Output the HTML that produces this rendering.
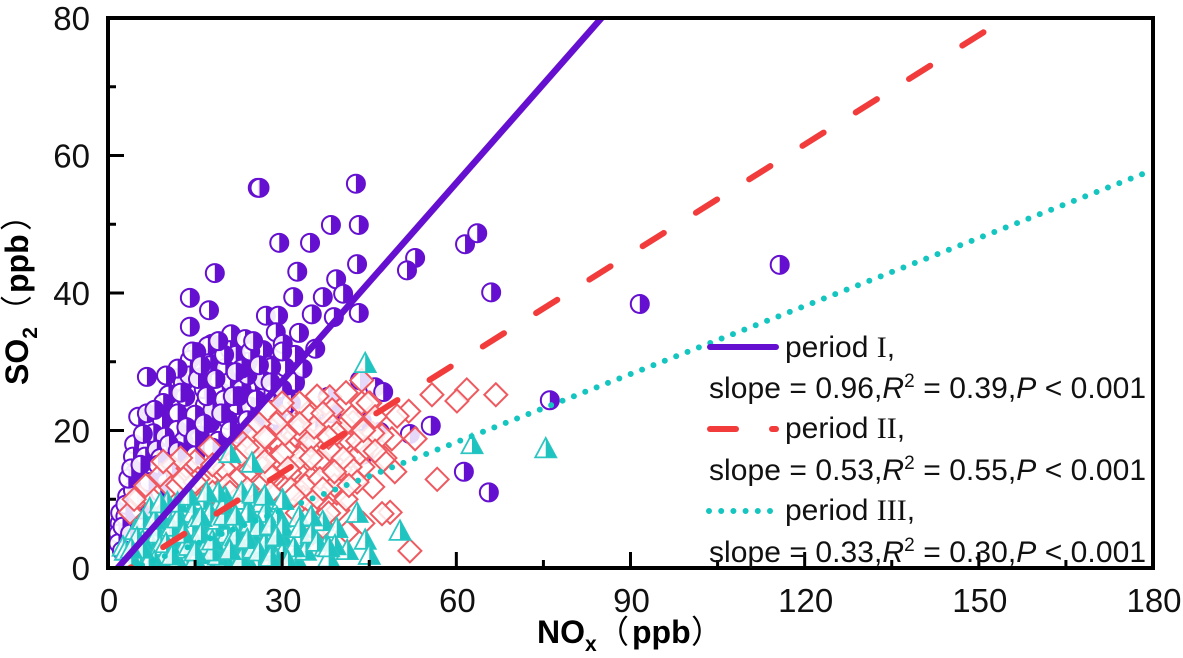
<!DOCTYPE html>
<html lang="en">
<head>
<meta charset="utf-8">
<title>SO2 versus NOx scatter chart</title>
<style>
html,body{margin:0;padding:0;background:#fff;}
svg{display:block;font-family:"Liberation Sans",Arial,sans-serif;}
</style>
</head>
<body>
<svg id="chart" xmlns="http://www.w3.org/2000/svg" width="1183" height="658" viewBox="0 0 1183 658">
  <defs><clipPath id="plot-clip"><rect x="108" y="18" width="1045" height="550"/></clipPath></defs>
  <g id="points" clip-path="url(#plot-clip)"></g>
  <g id="fits" clip-path="url(#plot-clip)"></g>
  <rect x="108" y="18" width="1045" height="550" fill="none" stroke="#000" stroke-width="4"/>
  <g id="ticks"></g>

  <text x="537" y="643" font-size="32" font-weight="bold">NO<tspan font-size="21" dy="8">x</tspan><tspan x="597" dy="-8" font-weight="normal" font-family="'Noto Sans CJK SC',sans-serif">（</tspan><tspan x="632">ppb</tspan><tspan x="691" font-weight="normal" font-family="'Noto Sans CJK SC',sans-serif">）</tspan></text>
  <text transform="translate(28,385) rotate(-90)" font-size="32" font-weight="bold">SO<tspan font-size="21" dy="9">2</tspan><tspan x="58" dy="-9" font-weight="normal" font-family="'Noto Sans CJK SC',sans-serif">（</tspan><tspan x="92">ppb</tspan><tspan x="154" font-weight="normal" font-family="'Noto Sans CJK SC',sans-serif">）</tspan></text>

  <g font-size="30" fill="#111">
    <line x1="710" y1="347" x2="776" y2="347" stroke="#6510d0" stroke-width="6" stroke-linecap="round"/>
    <text x="785" y="357">period <tspan font-family="'Liberation Serif',serif">I</tspan>,</text>
    <text x="709" y="398" textLength="437">slope = 0.96,<tspan font-style="italic">R</tspan><tspan font-size="19" dy="-11">2</tspan><tspan dy="11"> = 0.39,</tspan><tspan font-style="italic">P</tspan> &lt; 0.001</text>
    <line x1="710" y1="429" x2="736" y2="429" stroke="#f23c3c" stroke-width="6" stroke-linecap="round"/>
    <line x1="772" y1="429" x2="776" y2="429" stroke="#f23c3c" stroke-width="6" stroke-linecap="round"/>
    <text x="785" y="438">period <tspan font-family="'Liberation Serif',serif">II</tspan>,</text>
    <text x="709" y="480" textLength="437">slope = 0.53,<tspan font-style="italic">R</tspan><tspan font-size="19" dy="-11">2</tspan><tspan dy="11"> = 0.55,</tspan><tspan font-style="italic">P</tspan> &lt; 0.001</text>
    <line x1="709" y1="511" x2="775" y2="511" stroke="#15c5c0" stroke-width="6" stroke-linecap="round" stroke-dasharray="0 12.2"/>
    <text x="785" y="520">period <tspan font-family="'Liberation Serif',serif">III</tspan>,</text>
    <text x="709" y="562" textLength="437">slope = 0.33,<tspan font-style="italic">R</tspan><tspan font-size="19" dy="-11">2</tspan><tspan dy="11"> = 0.30,</tspan><tspan font-style="italic">P</tspan> &lt; 0.001</text>
  </g>
</svg>
<script>
const xTickLabels = [0, 30, 60, 90, 120, 150, 180];
const yTickLabels = [0, 20, 40, 60, 80];
const xMinorTicks = [15, 45, 75, 105, 135, 165];
const yMinorTicks = [10, 30, 50, 70];

const period1NOx = [
25.8,26.1,42.7,38.4,43.2,29.5,34.8,18.4,32.6,42.9,
52.9,51.5,39.3,14.1,17.4,14.1,31.9,37.0,40.5,27.2,
29.3,35.1,38.9,43.2,28.9,32.9,30.1,35.7,32.2,21.2,
23.6,17.9,17.2,15.2,14.1,26.7,17.4,21.0,24.1,27.9,
30.5,61.5,63.6,66.0,91.6,115.7,55.6,52.0,61.3,65.6,
76.1,28.1,32.2,31.2,43.4,46.0,47.4,37.9,43.7,31.7,
35.7,46.8,28.4,6.7,5.2,6.7,4.5,6.7,4.3,4.6,
8.1,6.4,3.3,4.3,2.0,1.8,1.8,2.1,9.3,11.9,
10.4,12.9,16.2,17.6,25.3,26.7,32.2,25.3,22.2,19.6,
20.2,21.0,16.7,17.6,20.7,15.8,12.0,11.9,7.8,9.8,
15.0,13.3,15.0,11.9,8.4,23.0,24.5,27.0,19.0,13.0,
18.0,22.5,25.5,9.5,11.0,13.5,6.0,3.0,5.5,3.5,
22.0,16.5,10.0,28.5,24.0,20.0,29.0,38.5,44.0,34.0,
9.0,10.5,12.0,13.5,15.0,16.5,18.0,19.5,21.0,22.5,
24.0,25.5,27.0,28.5,30.0,31.5,33.0,10.0,12.5,14.0,
15.5,17.0,18.5,20.0,21.5,23.0,24.5,26.0,12.0,14.5,
16.0,19.0,22.0,25.0,28.0,30.0,33.5,8.0,10.0,6.0,
3.0,2.5,4.0,5.0,7.0,3.8,2.4,8.6,9.0,5.6];
const period1SO2 = [
55.3,55.3,55.9,49.9,49.9,47.3,47.3,42.9,43.1,44.2,
45.1,43.3,42.0,39.3,37.5,35.1,39.4,39.4,39.9,36.7,
36.7,36.9,36.5,37.1,34.3,34.2,32.6,31.9,31.0,34.0,
33.3,32.6,32.3,31.4,30.3,31.7,29.8,31.7,30.0,29.5,
29.2,47.1,48.7,40.1,38.4,44.1,20.7,19.5,14.0,11.0,
24.4,29.2,26.9,24.3,27.3,26.3,25.6,24.9,21.4,21.2,
20.8,19.8,20.1,27.8,22.0,22.5,18.0,17.5,16.2,13.8,
13.8,16.2,10.4,11.3,6.5,5.0,3.6,8.0,21.5,27.6,
25.2,26.9,27.8,29.5,27.1,27.3,27.1,21.1,23.7,25.5,
29.1,27.1,23.7,21.1,21.5,19.3,22.5,20.1,19.6,19.1,
22.3,24.9,16.4,16.7,17.2,26.0,23.5,24.0,18.5,18.5,
23.0,19.5,19.0,24.0,14.5,14.0,11.0,7.5,8.5,13.0,
31.0,26.0,16.5,25.5,28.0,24.5,22.0,22.5,16.5,18.0,
16.0,18.0,17.0,20.5,19.0,21.0,17.5,22.5,20.0,25.0,
21.5,24.5,19.5,23.0,26.0,24.0,22.0,12.5,25.5,28.0,
27.5,25.0,27.5,31.0,25.0,29.0,31.5,29.5,29.0,31.5,
29.5,33.0,28.5,33.0,27.0,31.5,29.0,23.0,28.0,19.5,
9.2,6.0,14.5,10.0,12.5,5.0,2.5,15.0,11.0,15.0];

const period2NOx = [
55.8,61.8,60.1,66.8,56.7,52.0,48.6,47.2,45.6,49.4,
52.9,48.9,51.8,49.8,47.7,43.7,45.5,43.7,45.1,42.2,
43.9,41.2,42.2,43.9,41.2,43.7,40.8,35.0,38.2,38.6,
40.8,44.8,28.8,32.2,35.3,39.1,47.2,43.4,27.4,26.2,
29.3,32.7,37.0,40.0,11.0,5.5,3.8,13.8,17.6,19.3,
23.3,27.6,29.1,26.5,32.7,34.3,38.2,36.5,33.6,36.5,
35.3,39.6,39.4,7.8,10.7,14.1,17.0,22.2,24.5,31.3,
33.6,29.1,27.4,30.8,38.2,41.7,42.9,36.5,34.8,25.7,
21.0,32.6,34.3,38.2,39.4,45.6,47.4,37.0,36.0,12.0,
30.0,31.0,35.0,33.0,41.0,25.0,22.0,15.0,20.0,46.0,
6.5,9.0,12.5,15.5,18.0,20.5,23.0,25.5,28.0,30.5,
33.0,35.5,38.0,40.5,43.0,29.0,31.5,34.0,36.5,39.0,
41.5,44.5,27.0,24.0,21.0,18.0,15.0,13.0,9.5,4.5,
33.0,37.0,30.0,26.0,35.0,39.0,42.0,28.0,32.0,24.0,
30.0,36.0,41.0,44.0,46.0,38.0,34.0,37.0,31.0,27.0];
const period2SO2 = [
25.2,25.9,24.3,25.2,12.9,2.5,8.1,7.9,11.8,14.0,
18.8,18.8,22.8,22.1,16.0,16.6,19.1,27.3,24.0,21.2,
14.7,14.3,13.2,6.5,5.2,24.0,18.6,22.5,24.9,23.0,
20.8,24.0,18.2,19.3,17.9,17.2,19.3,16.7,23.0,18.6,
15.4,14.0,15.7,14.3,14.8,10.3,8.1,14.5,17.5,13.2,
18.2,22.7,18.3,12.1,20.1,22.5,21.1,15.7,10.3,7.0,
5.1,8.4,10.9,9.9,11.8,11.3,12.8,12.8,14.3,13.8,
16.7,16.1,19.1,11.8,13.8,14.7,12.5,19.1,18.6,15.3,
15.3,8.0,9.9,17.2,19.6,19.6,15.7,6.0,10.3,12.0,
22.0,17.0,13.0,24.0,10.0,20.0,16.0,15.5,14.5,22.0,
12.0,13.5,16.0,13.0,15.0,12.0,16.5,17.0,13.5,19.5,
16.0,20.5,19.0,16.0,18.5,21.0,11.5,12.0,13.0,12.0,
12.0,17.5,15.5,11.5,11.0,11.0,12.5,13.0,15.5,10.0,
21.0,22.5,16.5,21.0,16.0,14.0,22.0,11.0,10.5,17.5,
24.0,25.0,25.5,20.0,17.0,8.0,7.0,11.5,14.5,19.0];

const period3NOx = [
44.3,62.7,75.4,42.9,50.3,44.3,45.0,41.2,37.0,39.4,
39.1,37.4,32.9,33.1,32.2,30.1,29.6,26.5,30.0,30.1,
26.2,25.8,27.9,25.0,27.9,21.0,24.8,7.2,10.2,13.6,
16.4,20.2,23.3,18.9,2.6,4.7,6.7,9.0,11.9,14.6,
17.6,21.5,30.0,29.1,3.5,5.5,7.5,9.5,11.5,13.5,
15.5,17.5,19.5,21.5,23.5,25.0,8.5,10.5,12.5,14.5,
16.5,18.5,20.5,22.5,24.5,6.0,12.0,16.0,20.0,24.0,
28.0,22.0,19.0,15.0,11.0,9.0,35.0,34.0,38.0,27.0,
3.0,5.0,7.0,9.0,11.0,13.0,15.0,17.0,19.0,21.0,
23.0,25.0,27.0,29.0,4.0,6.0,8.0,10.0,12.0,14.0,
16.0,18.0,20.0,22.0,24.0,26.0,28.0,8.0,10.0,12.0,
14.0,16.0,18.0,20.0,22.0,24.0,26.0,28.0,30.0,32.0,
15.0,19.0,23.0,13.0,11.0,17.0,21.0,25.0,9.0,7.0,
31.0,33.0,35.0,36.0,38.0,27.0,29.0,5.0,6.0,4.0];
const period3SO2 = [
29.8,18.0,17.4,8.0,5.4,4.1,1.9,2.6,6.8,5.8,
3.3,3.1,7.4,4.5,1.6,9.9,7.3,9.5,4.5,2.3,
3.6,1.2,5.1,7.0,1.2,16.7,15.3,8.7,9.6,9.5,
9.9,10.3,9.9,8.9,3.1,5.5,6.0,7.4,8.0,8.0,
8.0,8.0,9.9,7.4,1.0,2.0,3.5,1.2,3.0,1.5,
3.5,1.0,3.0,1.2,2.5,4.5,5.0,5.5,5.5,6.0,
5.5,6.0,5.0,6.0,6.5,4.0,1.0,2.0,1.5,1.0,
3.0,3.5,7.0,4.0,4.0,2.5,7.5,2.5,1.5,8.0,
2.5,3.5,1.5,3.2,6.0,2.8,1.2,3.4,1.8,3.8,
1.4,2.8,3.6,1.2,1.5,7.0,7.0,2.0,7.2,3.2,
7.4,2.4,7.6,4.6,8.0,6.0,6.2,1.0,3.6,9.5,
10.5,5.0,4.0,9.2,7.6,4.2,2.4,1.6,6.0,3.0,
2.4,11.0,11.0,5.0,1.8,11.0,2.6,10.8,9.4,1.0,
1.0,5.8,5.0,3.8,3.0,10.5,4.6,4.4,2.8,2.8];

const fitSlopes = [0.96, 0.53, 0.33];
const fitIntercepts = [-1.6, -2.0, -1.5];
const fitStartNOx = [0, 150.8, 0];
const fitEndNOx = [90, 0, 180];

const NS = 'http://www.w3.org/2000/svg';
function xScale(v) { return 108 + v * (1045 / 180); }
function yScale(v) { return 568 - v * (550 / 80); }

const pointsLayer = document.getElementById('points');
const fitsLayer = document.getElementById('fits');
const ticksLayer = document.getElementById('ticks');

function drawCircle(cx, cy) {
  const g = document.createElementNS(NS, 'g');
  
  
  const base = document.createElementNS(NS, 'circle');
  base.setAttribute('cx', cx);
  base.setAttribute('cy', cy);
  base.setAttribute('r', 9);
  base.setAttribute('fill', 'rgba(255,255,255,0.9)');
  base.setAttribute('stroke', '#6510d0');
  base.setAttribute('stroke-width', 2);
  g.appendChild(base);
  const half = document.createElementNS(NS, 'path');
  half.setAttribute('d', 'M' + cx + ' ' + (cy - 9) + 'A9 9 0 0 1 ' + cx + ' ' + (cy + 9) + 'Z');
  half.setAttribute('fill', '#6510d0');
  g.appendChild(half);
  pointsLayer.appendChild(g);
}
function drawDiamond(cx, cy) {
  const d = document.createElementNS(NS, 'path');
  d.setAttribute('d', 'M' + cx + ' ' + (cy - 11.5) + 'L' + (cx + 11.5) + ' ' + cy + 'L' + cx + ' ' + (cy + 11.5) + 'L' + (cx - 11.5) + ' ' + cy + 'Z');
  d.setAttribute('fill', 'rgba(255,255,255,0.84)');
  d.setAttribute('stroke', '#ee5a60');
  d.setAttribute('stroke-width', 2);
  
  
  pointsLayer.appendChild(d);
}
function drawTriangle(cx, cy) {
  const g = document.createElementNS(NS, 'g');
  
  
  const outline = document.createElementNS(NS, 'path');
  outline.setAttribute('d', 'M' + cx + ' ' + (cy - 10.5) + 'L' + (cx + 10.5) + ' ' + (cy + 9) + 'L' + (cx - 10.5) + ' ' + (cy + 9) + 'Z');
  outline.setAttribute('fill', 'rgba(255,255,255,0.85)');
  outline.setAttribute('stroke', '#2cc6c2');
  outline.setAttribute('stroke-width', 1.8);
  g.appendChild(outline);
  const half = document.createElementNS(NS, 'path');
  half.setAttribute('d', 'M' + cx + ' ' + (cy - 10.5) + 'L' + (cx + 10.5) + ' ' + (cy + 9) + 'L' + cx + ' ' + (cy + 9) + 'Z');
  half.setAttribute('fill', '#1fc4c0');
  g.appendChild(half);
  pointsLayer.appendChild(g);
}

for (let i = 0; i < Math.min(period1NOx.length, period1SO2.length); i++) {
  drawCircle(xScale(period1NOx[i]), yScale(period1SO2[i]));
}
for (let i = 0; i < Math.min(period2NOx.length, period2SO2.length); i++) {
  drawDiamond(xScale(period2NOx[i]), yScale(period2SO2[i]));
}
for (let i = 0; i < Math.min(period3NOx.length, period3SO2.length); i++) {
  drawTriangle(xScale(period3NOx[i]), yScale(period3SO2[i]));
}

const fitColors = ['#6510d0', '#f23c3c', '#15c5c0'];
const fitDashes = ['none', '25 37.9', '0 12.2'];
const fitWidths = [6.5, 6, 6];
for (let i = 2; i >= 0; i--) {
  const fit = document.createElementNS(NS, 'line');
  fit.setAttribute('x1', xScale(fitStartNOx[i]));
  fit.setAttribute('y1', yScale(fitSlopes[i] * fitStartNOx[i] + fitIntercepts[i]));
  fit.setAttribute('x2', xScale(fitEndNOx[i]));
  fit.setAttribute('y2', yScale(fitSlopes[i] * fitEndNOx[i] + fitIntercepts[i]));
  fit.setAttribute('stroke', fitColors[i]);
  fit.setAttribute('stroke-width', fitWidths[i]);
  fit.setAttribute('stroke-linecap', i === 0 ? 'butt' : 'round');
  fit.setAttribute('stroke-dasharray', fitDashes[i]);
  
  
  fitsLayer.appendChild(fit);
}

function drawTick(x1, y1, x2, y2, name) {
  const t = document.createElementNS(NS, 'line');
  t.setAttribute('x1', x1);
  t.setAttribute('y1', y1);
  t.setAttribute('x2', x2);
  t.setAttribute('y2', y2);
  t.setAttribute('stroke', '#000');
  t.setAttribute('stroke-width', 3);
  
  
  ticksLayer.appendChild(t);
}
function drawLabel(x, y, anchor, value, name) {
  const l = document.createElementNS(NS, 'text');
  l.setAttribute('x', x);
  l.setAttribute('y', y);
  l.setAttribute('text-anchor', anchor);
  l.setAttribute('font-size', 33);
  l.setAttribute('fill', '#111');
  
  
  l.textContent = value;
  ticksLayer.appendChild(l);
}
xTickLabels.forEach(function (v) {
  const x = xScale(v);
  if (v > 0 && v < 180) drawTick(x, 568, x, 552, 'x-major-tick');
  drawLabel(x + 1, 612, 'middle', v, 'x-tick-label');
});
xMinorTicks.forEach(function (v) {
  const x = xScale(v);
  drawTick(x, 568, x, 560, 'x-minor-tick');
});
yTickLabels.forEach(function (v) {
  const y = yScale(v);
  if (v > 0 && v < 80) drawTick(108, y, 124, y, 'y-major-tick');
  drawLabel(90, y + 12, 'end', v, 'y-tick-label');
});
yMinorTicks.forEach(function (v) {
  const y = yScale(v);
  drawTick(108, y, 116, y, 'y-minor-tick');
});
</script>
</body>
</html>
